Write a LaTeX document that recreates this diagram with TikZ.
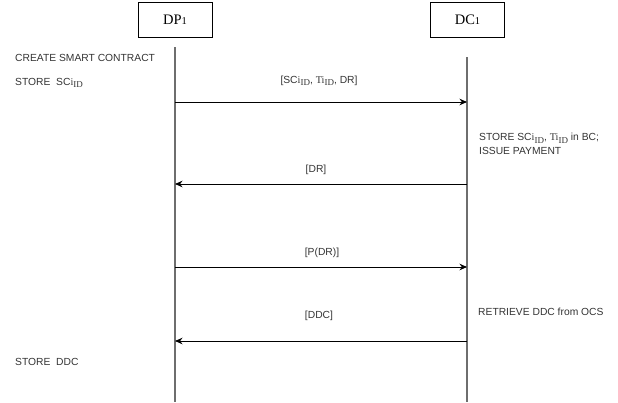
\documentclass[tikz,border=0pt]{standalone}
\usepackage{fontspec}
\setmainfont{Liberation Sans}
\newfontfamily\tnr{Liberation Serif}
\usetikzlibrary{arrows.meta}
\definecolor{txt}{HTML}{333333}
\definecolor{life}{HTML}{6E6E6E}
\newcommand{\subid}{\raisebox{-2.5pt}{\tnr\fontsize{9}{10}\selectfont ID}}
\newcommand{\sci}{SC{\tnr i}\subid}
\newcommand{\tii}{{\tnr Ti}\subid}
\tikzset{
  actor/.style={draw=black, line width=0.8pt, minimum width=74pt, minimum height=35pt, inner sep=0pt, font=\tnr\fontsize{14.5}{16}\selectfont},
  lifeline/.style={draw=life, line width=1.2pt},
  msg/.style={draw=black, line width=0.9pt, -{Stealth[length=7.5pt,width=6.5pt]}},
  lbl/.style={inner sep=0pt, text=txt, font=\fontsize{10.3}{12}\selectfont},
  note/.style={inner sep=0pt, text=txt, anchor=west, align=left, font=\fontsize{10.3}{14}\selectfont}
}
\begin{document}
\begin{tikzpicture}[x=1pt,y=-1pt]
\useasboundingbox (0,0) rectangle (618,402);
\node[actor] (dp) at (175,19.5) {DP{\fontsize{10.5}{12}\selectfont 1}};
\node[actor] (dc) at (467.5,19.5) {DC{\fontsize{10.5}{12}\selectfont 1}};
\coordinate (dpt) at (175,47);
\coordinate (dpb) at (175,402);
\coordinate (dct) at (467,57);
\coordinate (dcb) at (467,402);
\draw[lifeline] (dpt) -- (dpb);
\draw[lifeline] (dct) -- (dcb);
% message end points
\coordinate (m1a) at (175,102); \coordinate (m1b) at (467,102);
\coordinate (m2a) at (467,184); \coordinate (m2b) at (175,184);
\coordinate (m3a) at (175,267); \coordinate (m3b) at (467,267);
\coordinate (m4a) at (467,341); \coordinate (m4b) at (175,341);
\draw[msg] (m1a) -- (m1b);
\draw[msg] (m2a) -- (m2b);
\draw[msg] (m3a) -- (m3b);
\draw[msg] (m4a) -- (m4b);
\node[lbl] (l1) at (319,81) {[\sci, \tii, DR]};
\node[lbl] (l2) at (316,170) {[DR]};
\node[lbl] (l3) at (322,253) {[P(DR)]};
\node[lbl] (l4) at (319,316) {[DDC]};
% notes
\node[note] (n1) at (15,58) {CREATE SMART CONTRACT};
\node[note] (n2) at (15,83) {STORE\ \ \sci};
\node[note] (n3) at (479,144) {STORE \sci, \tii\ in BC;\\ISSUE PAYMENT};
\node[note] (n4) at (478,312) {RETRIEVE DDC from OCS};
\node[note] (n5) at (15,362) {STORE\ \ DDC};
\end{tikzpicture}
\end{document}
